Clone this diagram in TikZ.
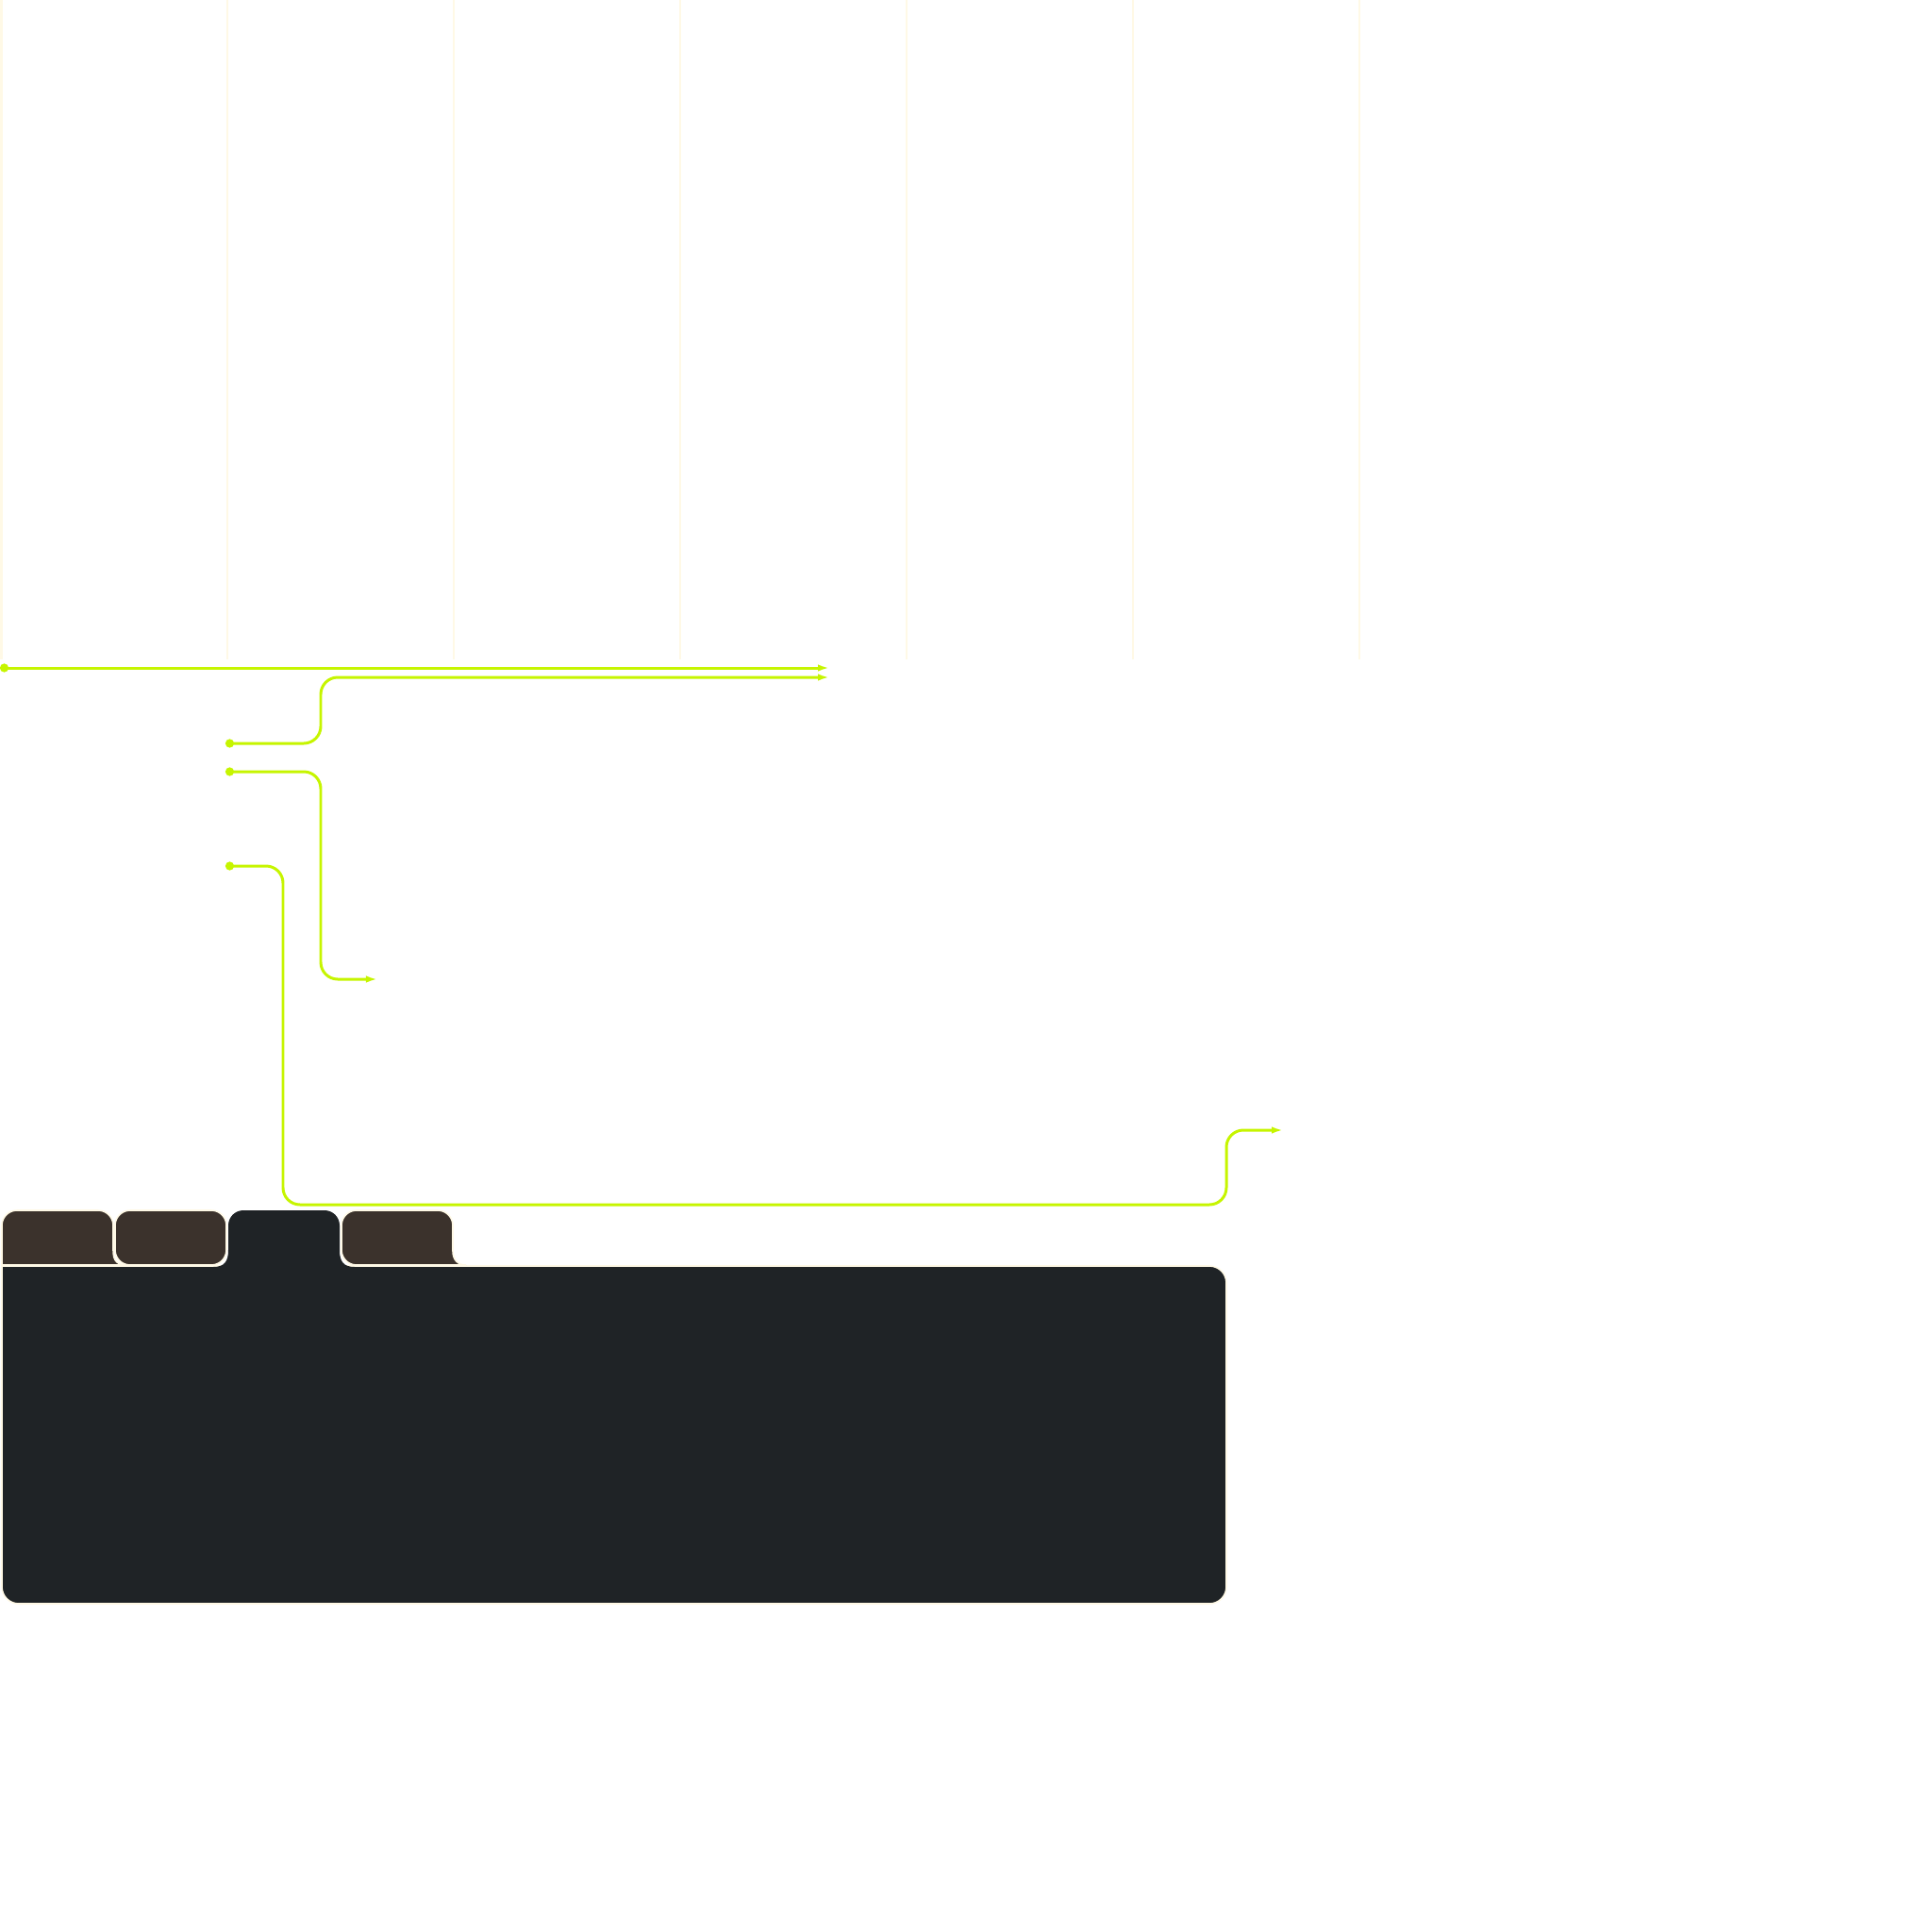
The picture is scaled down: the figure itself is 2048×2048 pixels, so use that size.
\documentclass[tikz,border=0pt]{standalone}
\usetikzlibrary{arrows.meta}
\definecolor{lime}{RGB}{198,245,0}
\definecolor{cream}{RGB}{255,249,230}
\definecolor{panel}{RGB}{31,35,38}
\definecolor{tabbrown}{RGB}{59,50,44}
\tikzset{
  gridline/.style={draw=cream, line width=0.6pt},
  wire/.style={draw=lime, line width=0.85pt, rounded corners=0.18cm,
    {Circle[length=0.09cm]}-{Latex[length=0.12cm,width=0.075cm]}},
  tabshape/.style={fill=tabbrown, draw=cream, line width=0.45pt},
}
\begin{document}
\begin{tikzpicture}[x=0.01cm,y=-0.01cm]
\useasboundingbox (0,0) rectangle (2048,2048);
% faint vertical guide lines
\foreach \gx in {1.5,241,481,721,961,1201,1441}
  \draw[gridline] (\gx,0) -- (\gx,699);
% endpoints
\coordinate (s1) at (0,708);   \coordinate (e1) at (879,708);
\coordinate (s2) at (239,788); \coordinate (e2) at (879,718);
\coordinate (s3) at (239,818); \coordinate (e3) at (400,1038);
\coordinate (s4) at (239,918); \coordinate (e4) at (1360,1198);
% wires
\draw[wire] (s1) -- (e1);
\draw[wire] (s2) -- (340,788) -- (340,718) -- (e2);
\draw[wire] (s3) -- (340,818) -- (340,1038) -- (e3);
\draw[wire] (s4) -- (300,918) -- (300,1277) -- (1300,1277) -- (1300,1198) -- (e4);
% panel
\path[fill=panel, draw=cream, line width=0.45pt]
  (2,1342) -- (1282,1342) .. controls (1292,1342) and (1300,1350) .. (1300,1360)
  -- (1300,1682) .. controls (1300,1692) and (1292,1700) .. (1282,1700)
  -- (20,1700) .. controls (10,1700) and (2,1692) .. (2,1682) -- cycle;
% active tab (dark)
\path[fill=panel]
  (226,1343) .. controls (238,1343) and (242,1337) .. (242,1325)
  [rounded corners=0.16cm] -- (242,1283) -- (360,1283) [sharp corners] -- (360,1325)
  .. controls (360,1337) and (364,1343) .. (376,1343) -- cycle;
% tab 1
\path[tabshape]
  (2,1341) [rounded corners=0.16cm] -- (2,1283) -- (120,1283) [sharp corners] -- (120,1325)
  .. controls (120,1337) and (124,1341) .. (136,1341) -- cycle;
% tab 2
\path[tabshape, rounded corners=0.16cm] (122,1283) rectangle (240,1341);
% tab 4
\path[tabshape]
  (494,1341) .. controls (485,1341) and (480,1335) .. (480,1326)
  [rounded corners=0.16cm] -- (480,1283) -- (362,1283) -- (362,1341) [sharp corners] -- cycle;
\end{tikzpicture}
\end{document}
